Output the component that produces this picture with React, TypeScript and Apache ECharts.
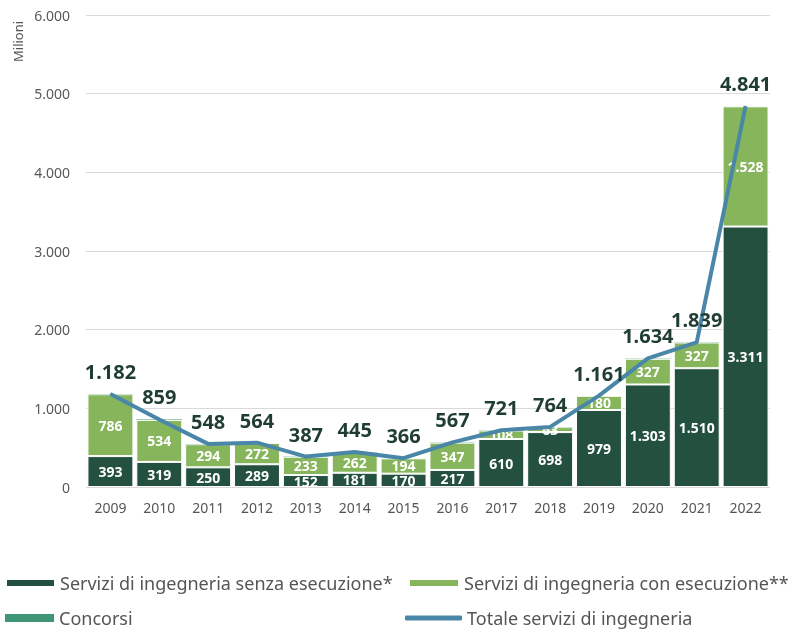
import React, { useEffect, useRef } from "react";
import * as echarts from "echarts";

const years = ["2009","2010","2011","2012","2013","2014","2015","2016","2017","2018","2019","2020","2021","2022"];
const senzaEsecuzione = [393, 319, 250, 289, 152, 181, 170, 217, 610, 698, 979, 1303, 1510, 3311];
const conEsecuzione = [786, 534, 294, 272, 233, 262, 194, 347, 108, 63, 180, 327, 327, 1528];
const concorsi = [3, 6, 4, 3, 2, 2, 2, 3, 3, 3, 2, 4, 2, 2];
const totale = [1182, 859, 548, 564, 387, 445, 366, 567, 721, 764, 1161, 1634, 1839, 4841];
const yTicks = [0, 1000, 2000, 3000, 4000, 5000, 6000];

const fmt = (v: number) => String(Math.round(v)).replace(/\B(?=(\d{3})+(?!\d))/g, ".");

const FONT = "Noto Sans";
const C_DARK = "#24513f";
const C_LIGHT = "#86b55b";
const C_TEAL = "#3f9677";
const C_LINE = "#4a86a8";

export default function App() {
  const ref = useRef<HTMLDivElement>(null);
  useEffect(() => {
    if (!ref.current) return;
    const chart = echarts.init(ref.current, null, { renderer: "svg" });
    const legendText = { fontFamily: FONT, fontSize: 18, color: "#555555", lineHeight: 20 };
    chart.setOption({
      animation: false,
      textStyle: { fontFamily: FONT },
      grid: { left: 86, right: 29, top: 15, bottom: 142 },
      legend: [
        { data: [{ name: "Servizi di ingegneria senza esecuzione*", icon: "rect" }], left: 5, top: 573, padding: 0, itemWidth: 49, itemHeight: 8, itemGap: 6, textStyle: legendText },
        { data: [{ name: "Servizi di ingegneria con esecuzione**", icon: "rect" }], left: 408, top: 573, padding: 0, itemWidth: 50, itemHeight: 8, textStyle: legendText },
        { data: [{ name: "Concorsi", icon: "rect" }], left: 5, top: 608, padding: 0, itemWidth: 49, itemHeight: 8, textStyle: legendText },
        { data: [{ name: "Totale servizi di ingegneria", icon: "roundRect", itemStyle: { color: C_LINE, opacity: 1 } }], left: 405, top: 608, padding: 0, itemWidth: 57, itemHeight: 5, itemGap: 2, textStyle: legendText },
      ],
      xAxis: {
        type: "category",
        data: years,
        axisLine: { show: false },
        axisTick: { show: false },
        axisLabel: { color: "#555555", fontSize: 14, margin: 13, fontFamily: FONT },
      },
      yAxis: {
        type: "value",
        min: yTicks[0],
        max: yTicks[yTicks.length - 1],
        interval: 1000,
        axisLine: { show: false },
        axisTick: { show: false },
        splitLine: { lineStyle: { color: "#d9d9d9", width: 1 } },
        axisLabel: { color: "#595959", fontSize: 14, margin: 16, fontFamily: FONT, formatter: (v: number) => fmt(v) },
      },
      graphic: [
        { type: "text", x: 11, y: 62, rotation: Math.PI / 2, style: { text: "Milioni", fontFamily: FONT, fontSize: 13, fill: "#555555" } },
      ],
      series: [
        {
          name: "Servizi di ingegneria senza esecuzione*",
          type: "bar",
          stack: "tot",
          data: senzaEsecuzione,
          barCategoryGap: "6%",
          itemStyle: { color: C_DARK, borderColor: "#ffffff", borderWidth: 1 },
          label: { show: true, position: "inside", color: "#ffffff", fontWeight: "bold", fontSize: 14, fontFamily: FONT, formatter: (p: any) => fmt(p.value) },
        },
        {
          name: "Servizi di ingegneria con esecuzione**",
          type: "bar",
          stack: "tot",
          data: conEsecuzione,
          itemStyle: { color: C_LIGHT, borderColor: "#ffffff", borderWidth: 1 },
          label: { show: true, position: "inside", color: "#ffffff", fontWeight: "bold", fontSize: 14, fontFamily: FONT, formatter: (p: any) => fmt(p.value) },
        },
        {
          name: "Concorsi",
          type: "bar",
          stack: "tot",
          data: concorsi,
          itemStyle: { color: C_TEAL },
        },
        {
          name: "Totale servizi di ingegneria",
          type: "line",
          data: totale,
          symbol: "circle",
          symbolSize: 1,
          showSymbol: true,
          itemStyle: { color: C_LINE },
          lineStyle: { color: C_LINE, width: 4 },
          label: { show: true, position: "top", distance: 12, color: "#1f3d33", fontWeight: "bold", fontSize: 20, fontFamily: FONT, formatter: (p: any) => fmt(p.value) },
          z: 5,
        },
      ],
    });
    return () => chart.dispose();
  }, []);
  return <div ref={ref} style={{ position: "fixed", left: 0, top: 0, width: 799, height: 629 }} />;
}
